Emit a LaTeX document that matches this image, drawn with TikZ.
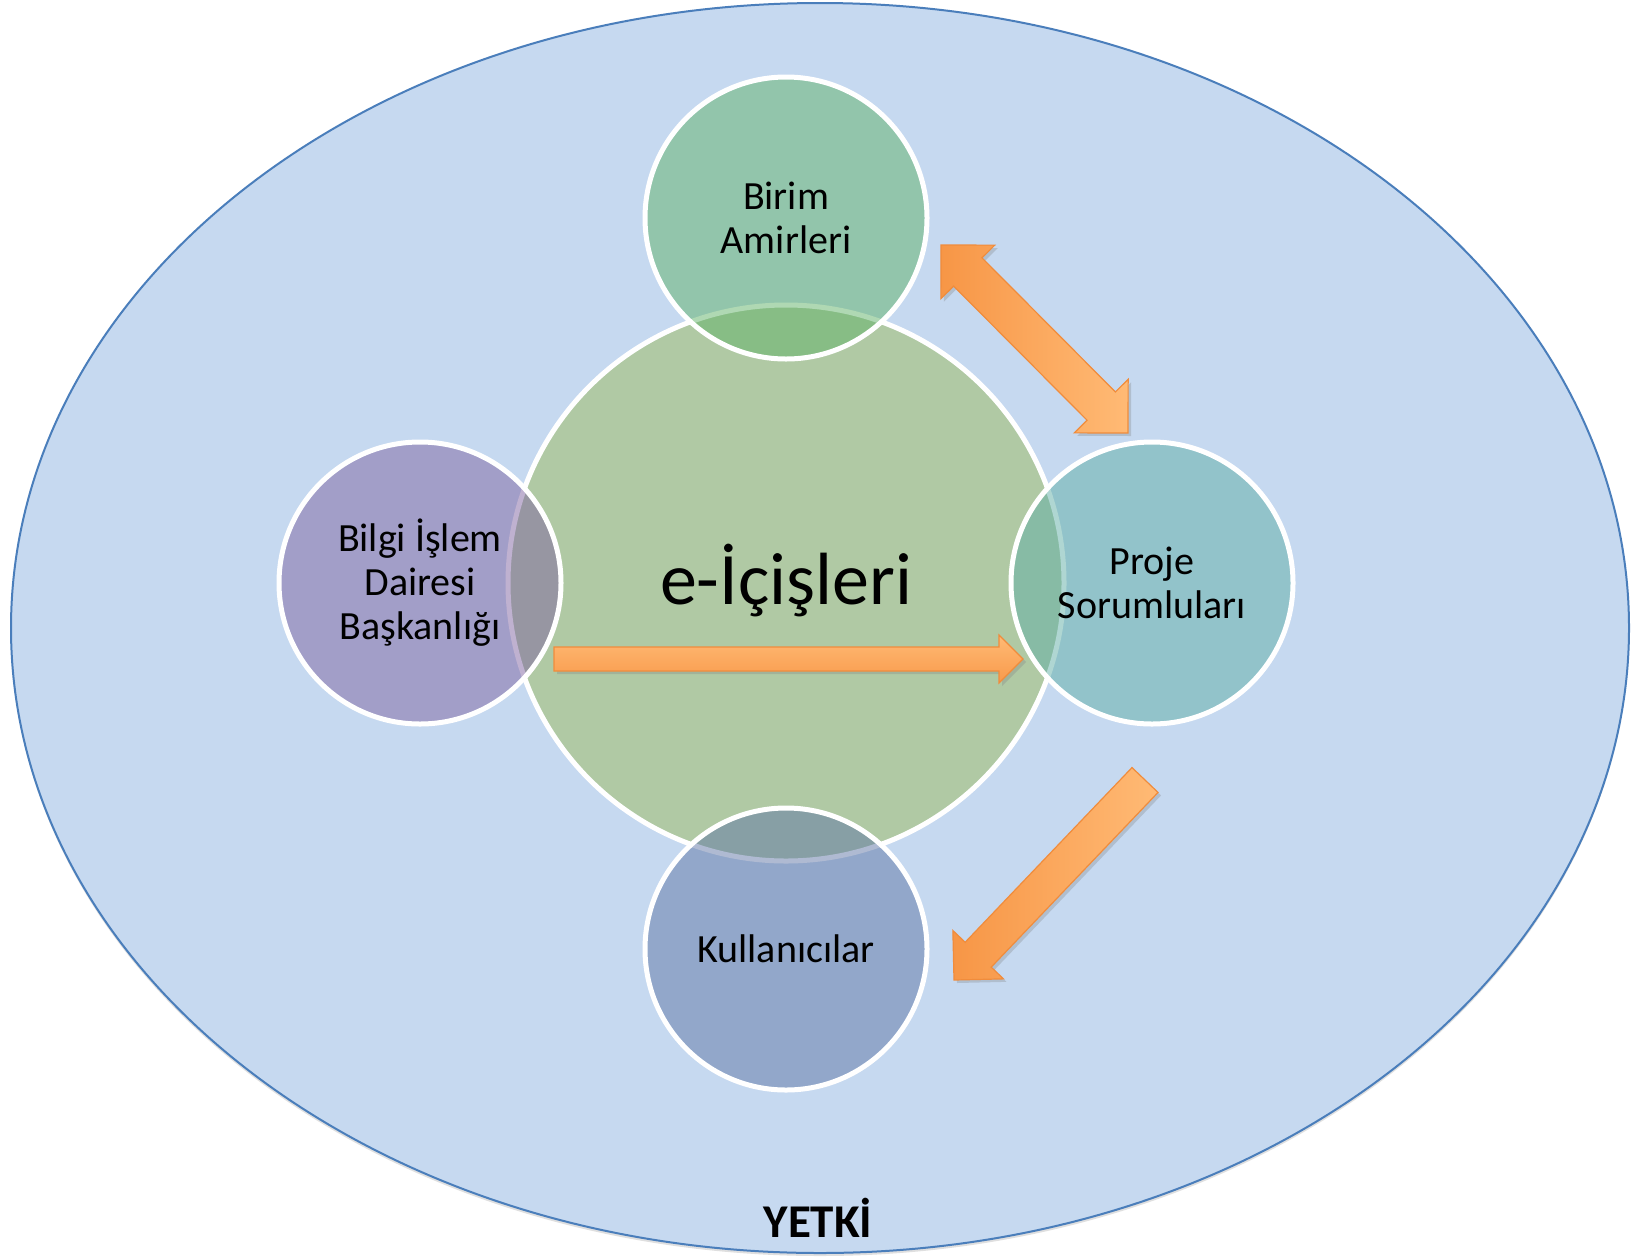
\documentclass[tikz,border=0pt]{standalone}
\usepackage{fontspec}
\setmainfont{Carlito}
\usetikzlibrary{calc,shadows}

\definecolor{skyfill}{HTML}{C6D9F0}
\definecolor{skyline}{HTML}{4A7EBB}
\definecolor{olivec}{HTML}{9BBB59}
\definecolor{greenc}{HTML}{60B368}
\definecolor{purplec}{HTML}{8064A2}
\definecolor{aquac}{HTML}{60AFA6}
\definecolor{bluec}{HTML}{6077A6}
\definecolor{orangedark}{HTML}{F79646}
\definecolor{orangelight}{HTML}{FFBA75}
\definecolor{orangeline}{HTML}{F08C3C}

\tikzset{
  bubble/.style={circle, draw=white, line width=5pt, fill opacity=0.5,
    text opacity=1, inner sep=0pt},
  smallbubble/.style={bubble, minimum size=282pt, font=\fontsize{40}{44}\selectfont, align=center},
  blockarrow/.style={draw=orangeline, line width=1.2pt,
    drop shadow={opacity=0.3, shadow xshift=3pt, shadow yshift=-3pt}},
  diagshade/.style={left color=orangedark, right color=orangelight},
  flatshade/.style={top color=orangelight, bottom color=orangedark!90!orangelight},
}

% block arrow from tail #1 to tip #2, half shaft width #3, half head width #4
\newcommand\singleblockarrow[6]{%
  \coordinate (#5b) at ($(#2)!#4!(#1)$);
  \path[blockarrow, #6]
    ($(#1)!#3!90:(#2)$) -- ($(#5b)!#3!90:(#2)$) -- ($(#5b)!#4!90:(#2)$) -- (#2)
    -- ($(#5b)!#4!-90:(#2)$) -- ($(#5b)!#3!-90:(#2)$) -- ($(#1)!#3!-90:(#2)$) -- cycle;}

% double-headed block arrow between tips #1 and #2
\newcommand\doubleblockarrow[6]{%
  \coordinate (#5a) at ($(#1)!#4!(#2)$);
  \coordinate (#5b) at ($(#2)!#4!(#1)$);
  \path[blockarrow, #6]
    (#1) -- ($(#5a)!#4!90:(#2)$) -- ($(#5a)!#3!90:(#2)$) -- ($(#5b)!#3!-90:(#1)$)
    -- ($(#5b)!#4!-90:(#1)$) -- (#2) -- ($(#5b)!#4!90:(#1)$) -- ($(#5b)!#3!90:(#1)$)
    -- ($(#5a)!#3!-90:(#2)$) -- ($(#5a)!#4!-90:(#2)$) -- cycle;}

\begin{document}
\begin{tikzpicture}[x=1pt, y=-1pt]
  \useasboundingbox[fill=white] (0,0) rectangle (1648,1256);

  % outer domain
  \fill[skyfill, draw=skyline, line width=2pt,
    drop shadow={opacity=0.25, shadow xshift=0pt, shadow yshift=-3pt}]
    (820,628) ellipse [x radius=809, y radius=625];
  \node[font=\fontsize{47}{52}\selectfont\bfseries] (yetki) at (818,1218) {YETKİ};

  % central circle
  \node[bubble, fill=olivec, minimum size=556pt] (core) at (786,583) {};

  % surrounding circles
  \node[smallbubble, fill=greenc]  (birim) at (786,218) {Birim\\Amirleri};
  \node[smallbubble, fill=purplec] (bilgi) at (420,583) {Bilgi İşlem\\Dairesi\\Başkanlığı};
  \node[smallbubble, fill=aquac]   (proje) at (1152,583) {Proje\\Sorumluları};
  \node[smallbubble, fill=bluec]   (kull)  at (786,949) {Kullanıcılar};

  \node[font=\fontsize{74}{80}\selectfont] (title) at (786,581) {e-İçişleri};

  % arrows
  \coordinate (hA) at (554,659);
  \coordinate (hB) at (1023,659);
  \singleblockarrow{hA}{hB}{12pt}{24pt}{hh}{flatshade}

  \coordinate (dA) at (941,245);
  \coordinate (dB) at (1128,433);
  \doubleblockarrow{dA}{dB}{20pt}{38pt}{dd}{diagshade}

  \coordinate (sA) at (1145,780);
  \coordinate (sB) at (954,980);
  \singleblockarrow{sA}{sB}{18pt}{35pt}{ss}{diagshade}
\end{tikzpicture}
\end{document}
